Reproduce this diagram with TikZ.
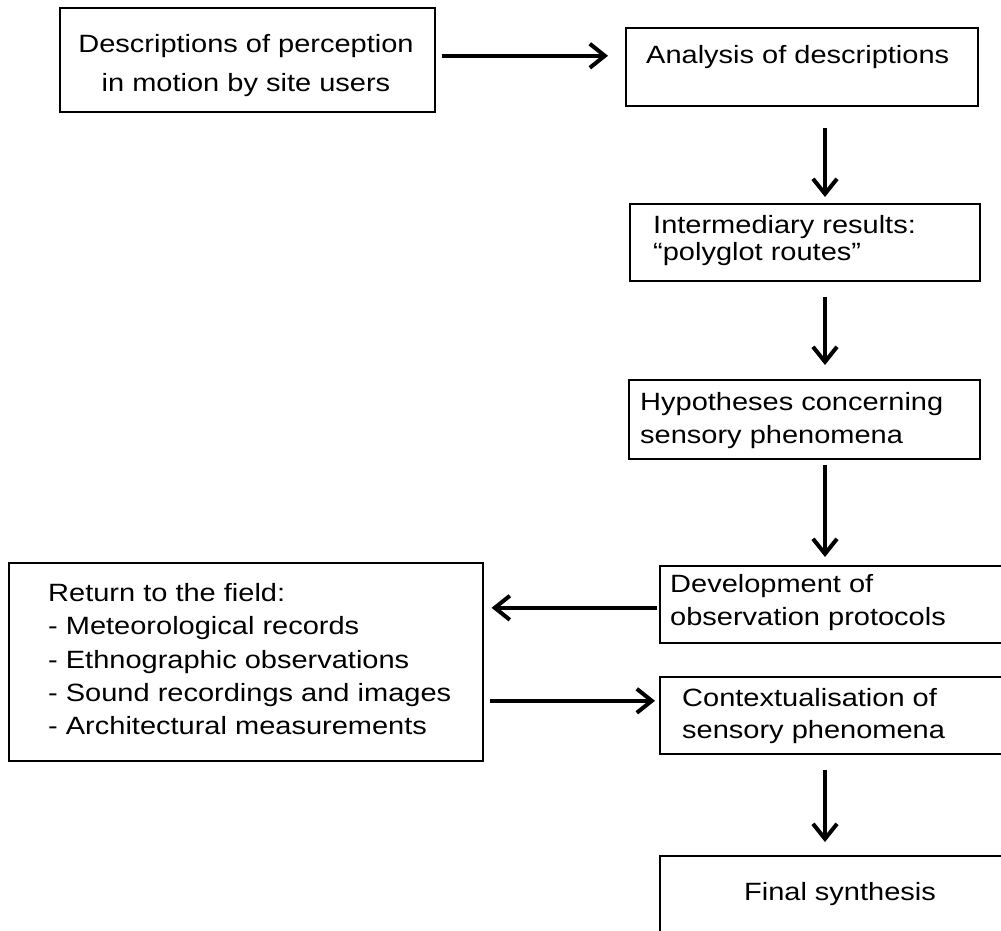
\documentclass[tikz,border=0pt]{standalone}
\usepackage{fontspec}
\setmainfont{Liberation Sans}[FakeStretch=1.16]
\usetikzlibrary{arrows.meta}
\begin{document}
\begin{tikzpicture}[x=1pt,y=-1pt,
  box/.style={draw,line width=1.6pt,inner sep=0pt,anchor=north west},
  txt/.style={inner sep=0pt,anchor=base west,font=\fontsize{25}{30}\selectfont},
  arr/.style={line width=4pt,-{Straight Barb[length=15pt,width=24pt]}}]
\useasboundingbox (0,0) rectangle (1001,930);
\clip (0,0) rectangle (1001,930);
% boxes
\node[box,minimum width=375pt,minimum height=104pt] (b1) at (59,7) {};
\node[box,minimum width=352pt,minimum height=78pt] (b2) at (625,27) {};
\node[box,minimum width=350pt,minimum height=77pt] (b3) at (629,203) {};
\node[box,minimum width=351pt,minimum height=79pt] (b4) at (628,379) {};
\node[box,minimum width=360pt,minimum height=77pt] (b5) at (659,565) {};
\node[box,minimum width=474pt,minimum height=198pt] (b6) at (8,562) {};
\node[box,minimum width=360pt,minimum height=77pt] (b7) at (659,676) {};
\node[box,minimum width=360pt,minimum height=100pt] (b8) at (659,855) {};
% texts
\node[txt,anchor=base] (t1a) at (246,52) {Descriptions of perception};
\node[txt,anchor=base] (t1b) at (246,91) {in motion by site users};
\node[txt] (t2) at (646,63) {Analysis of descriptions};
\node[txt] (t3a) at (653,233) {Intermediary results:};
\node[txt] (t3b) at (653,260) {“polyglot routes”};
\node[txt] (t4a) at (640,410) {Hypotheses concerning};
\node[txt] (t4b) at (640,443) {sensory phenomena};
\node[txt] (t5a) at (670,592) {Development of};
\node[txt] (t5b) at (670,625) {observation protocols};
\node[txt] (t7a) at (682,706) {Contextualisation of};
\node[txt] (t7b) at (682,738) {sensory phenomena};
\node[txt,anchor=base] (t8) at (840,900) {Final synthesis};
\node[txt] (t6a) at (48,601) {Return to the field:};
\node[txt] (t6b) at (48,634) {- Meteorological records};
\node[txt] (t6c) at (48,668) {- Ethnographic observations};
\node[txt] (t6d) at (48,701) {- Sound recordings and images};
\node[txt] (t6e) at (48,734) {- Architectural measurements};
% arrows
\coordinate (ax) at (825,0);
\draw[arr,shorten <=6pt,shorten >=17pt] ([yshift=4pt]b1.east) -- ([yshift=4pt]b1.east -| b2.west);
\draw[arr,shorten <=21pt,shorten >=6pt] (b2.south -| ax) -- (b3.north -| ax);
\draw[arr,shorten <=15pt,shorten >=14pt] (b3.south -| ax) -- (b4.north -| ax);
\draw[arr,shorten <=5pt,shorten >=8pt] (b4.south -| ax) -- (b5.north -| ax);
\draw[arr,shorten <=2pt,shorten >=8pt] ([yshift=-3.5pt]b5.west) -- ([yshift=-3.5pt]b5.west -| b6.east);
\draw[arr,shorten <=6pt,shorten >=4pt] ([yshift=14.5pt]b7.west -| b6.east) -- ([yshift=14.5pt]b7.west);
\draw[arr,shorten <=15pt,shorten >=13pt] (b7.south -| ax) -- (b8.north -| ax);
\end{tikzpicture}
\end{document}
